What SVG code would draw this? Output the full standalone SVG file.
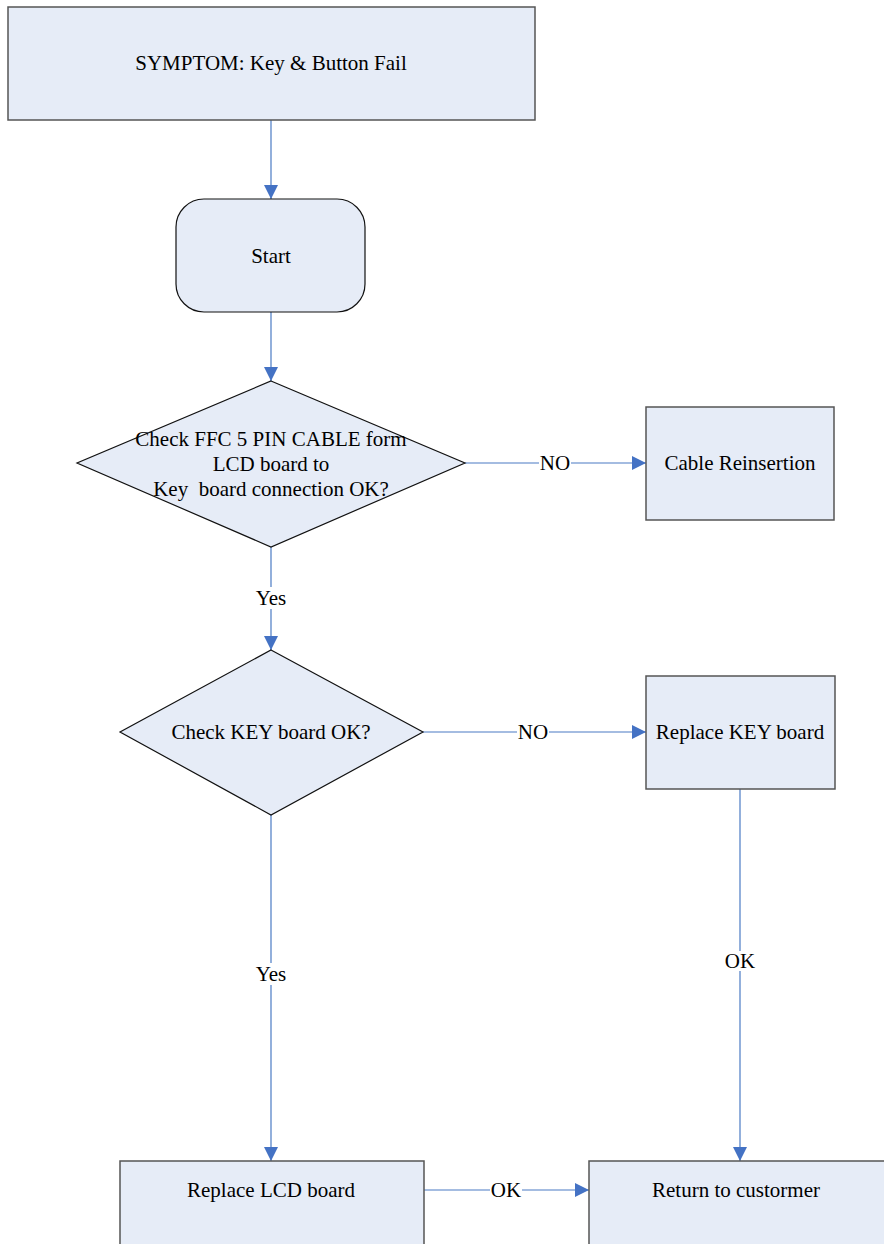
<svg xmlns="http://www.w3.org/2000/svg" width="884" height="1244" viewBox="0 0 884 1244">
<style>
.box{fill:#E6ECF7;stroke:#555;stroke-width:1.5}
.shape{fill:#E6ECF7;stroke:#111;stroke-width:1.2}
.t{font-family:"Liberation Serif","Times New Roman",serif;font-size:21px;fill:#000;text-anchor:middle;dominant-baseline:central}
.c{stroke:#4A7BC4;stroke-width:1.2;fill:none}
.lb{fill:#fff}
</style>
<defs>
<marker id="ah" viewBox="0 0 10 10" refX="10" refY="5" markerWidth="14" markerHeight="14" markerUnits="userSpaceOnUse" orient="auto">
<path d="M0,0 L10,5 L0,10 z" fill="#4472C4"/>
</marker>
</defs>
<rect width="884" height="1244" fill="#fff"/>
<g id="connectors">
<line class="c" x1="271" y1="120" x2="271" y2="199" marker-end="url(#ah)"/>
<line class="c" x1="271" y1="312" x2="271" y2="381" marker-end="url(#ah)"/>
<line class="c" x1="465" y1="463" x2="646" y2="463" marker-end="url(#ah)"/>
<line class="c" x1="271" y1="547" x2="271" y2="650" marker-end="url(#ah)"/>
<line class="c" x1="423" y1="732" x2="646" y2="732" marker-end="url(#ah)"/>
<line class="c" x1="740" y1="789" x2="740" y2="1161" marker-end="url(#ah)"/>
<line class="c" x1="271" y1="815" x2="271" y2="1161" marker-end="url(#ah)"/>
<line class="c" x1="424" y1="1190" x2="589" y2="1190" marker-end="url(#ah)"/>
<rect class="lb" x="539" y="453" width="32" height="20"/>
<text class="t" x="555" y="463">NO</text>
<rect class="lb" x="254" y="587" width="34" height="22"/>
<text class="t" x="271" y="598">Yes</text>
<rect class="lb" x="517" y="722" width="32" height="20"/>
<text class="t" x="533" y="732">NO</text>
<rect class="lb" x="724" y="951" width="32" height="20"/>
<text class="t" x="740" y="961">OK</text>
<rect class="lb" x="254" y="963" width="34" height="22"/>
<text class="t" x="271" y="974">Yes</text>
<rect class="lb" x="490" y="1180" width="32" height="20"/>
<text class="t" x="506" y="1190">OK</text>
</g>
<g id="symptom">
<rect class="box" x="8" y="7" width="527" height="113"/>
<text class="t" x="271" y="63">SYMPTOM: Key &amp; Button Fail</text>
</g>
<g id="start">
<rect class="shape" x="176" y="199" width="189" height="113" rx="28" ry="28"/>
<text class="t" x="271" y="256">Start</text>
</g>
<g id="check-ffc">
<polygon class="shape" points="271,381 465,463 271,547 77,463"/>
<text class="t" x="271" y="439">Check FFC 5 PIN CABLE form</text>
<text class="t" x="271" y="464">LCD board to</text>
<text class="t" x="271" y="489" xml:space="preserve">Key  board connection OK?</text>
</g>
<g id="cable-reinsertion">
<rect class="box" x="646" y="407" width="188" height="113"/>
<text class="t" x="740" y="463">Cable Reinsertion</text>
</g>
<g id="check-key">
<polygon class="shape" points="271,650 423,732 271,815 120,732"/>
<text class="t" x="271" y="732">Check KEY board OK?</text>
</g>
<g id="replace-key">
<rect class="box" x="646" y="676" width="189" height="113"/>
<text class="t" x="740" y="732">Replace KEY board</text>
</g>
<g id="replace-lcd">
<rect class="box" x="120" y="1161" width="304" height="100"/>
<text class="t" x="271" y="1190">Replace LCD board</text>
</g>
<g id="return">
<rect class="box" x="589" y="1161" width="310" height="100"/>
<text class="t" x="736" y="1190">Return to custormer</text>
</g>
</svg>
